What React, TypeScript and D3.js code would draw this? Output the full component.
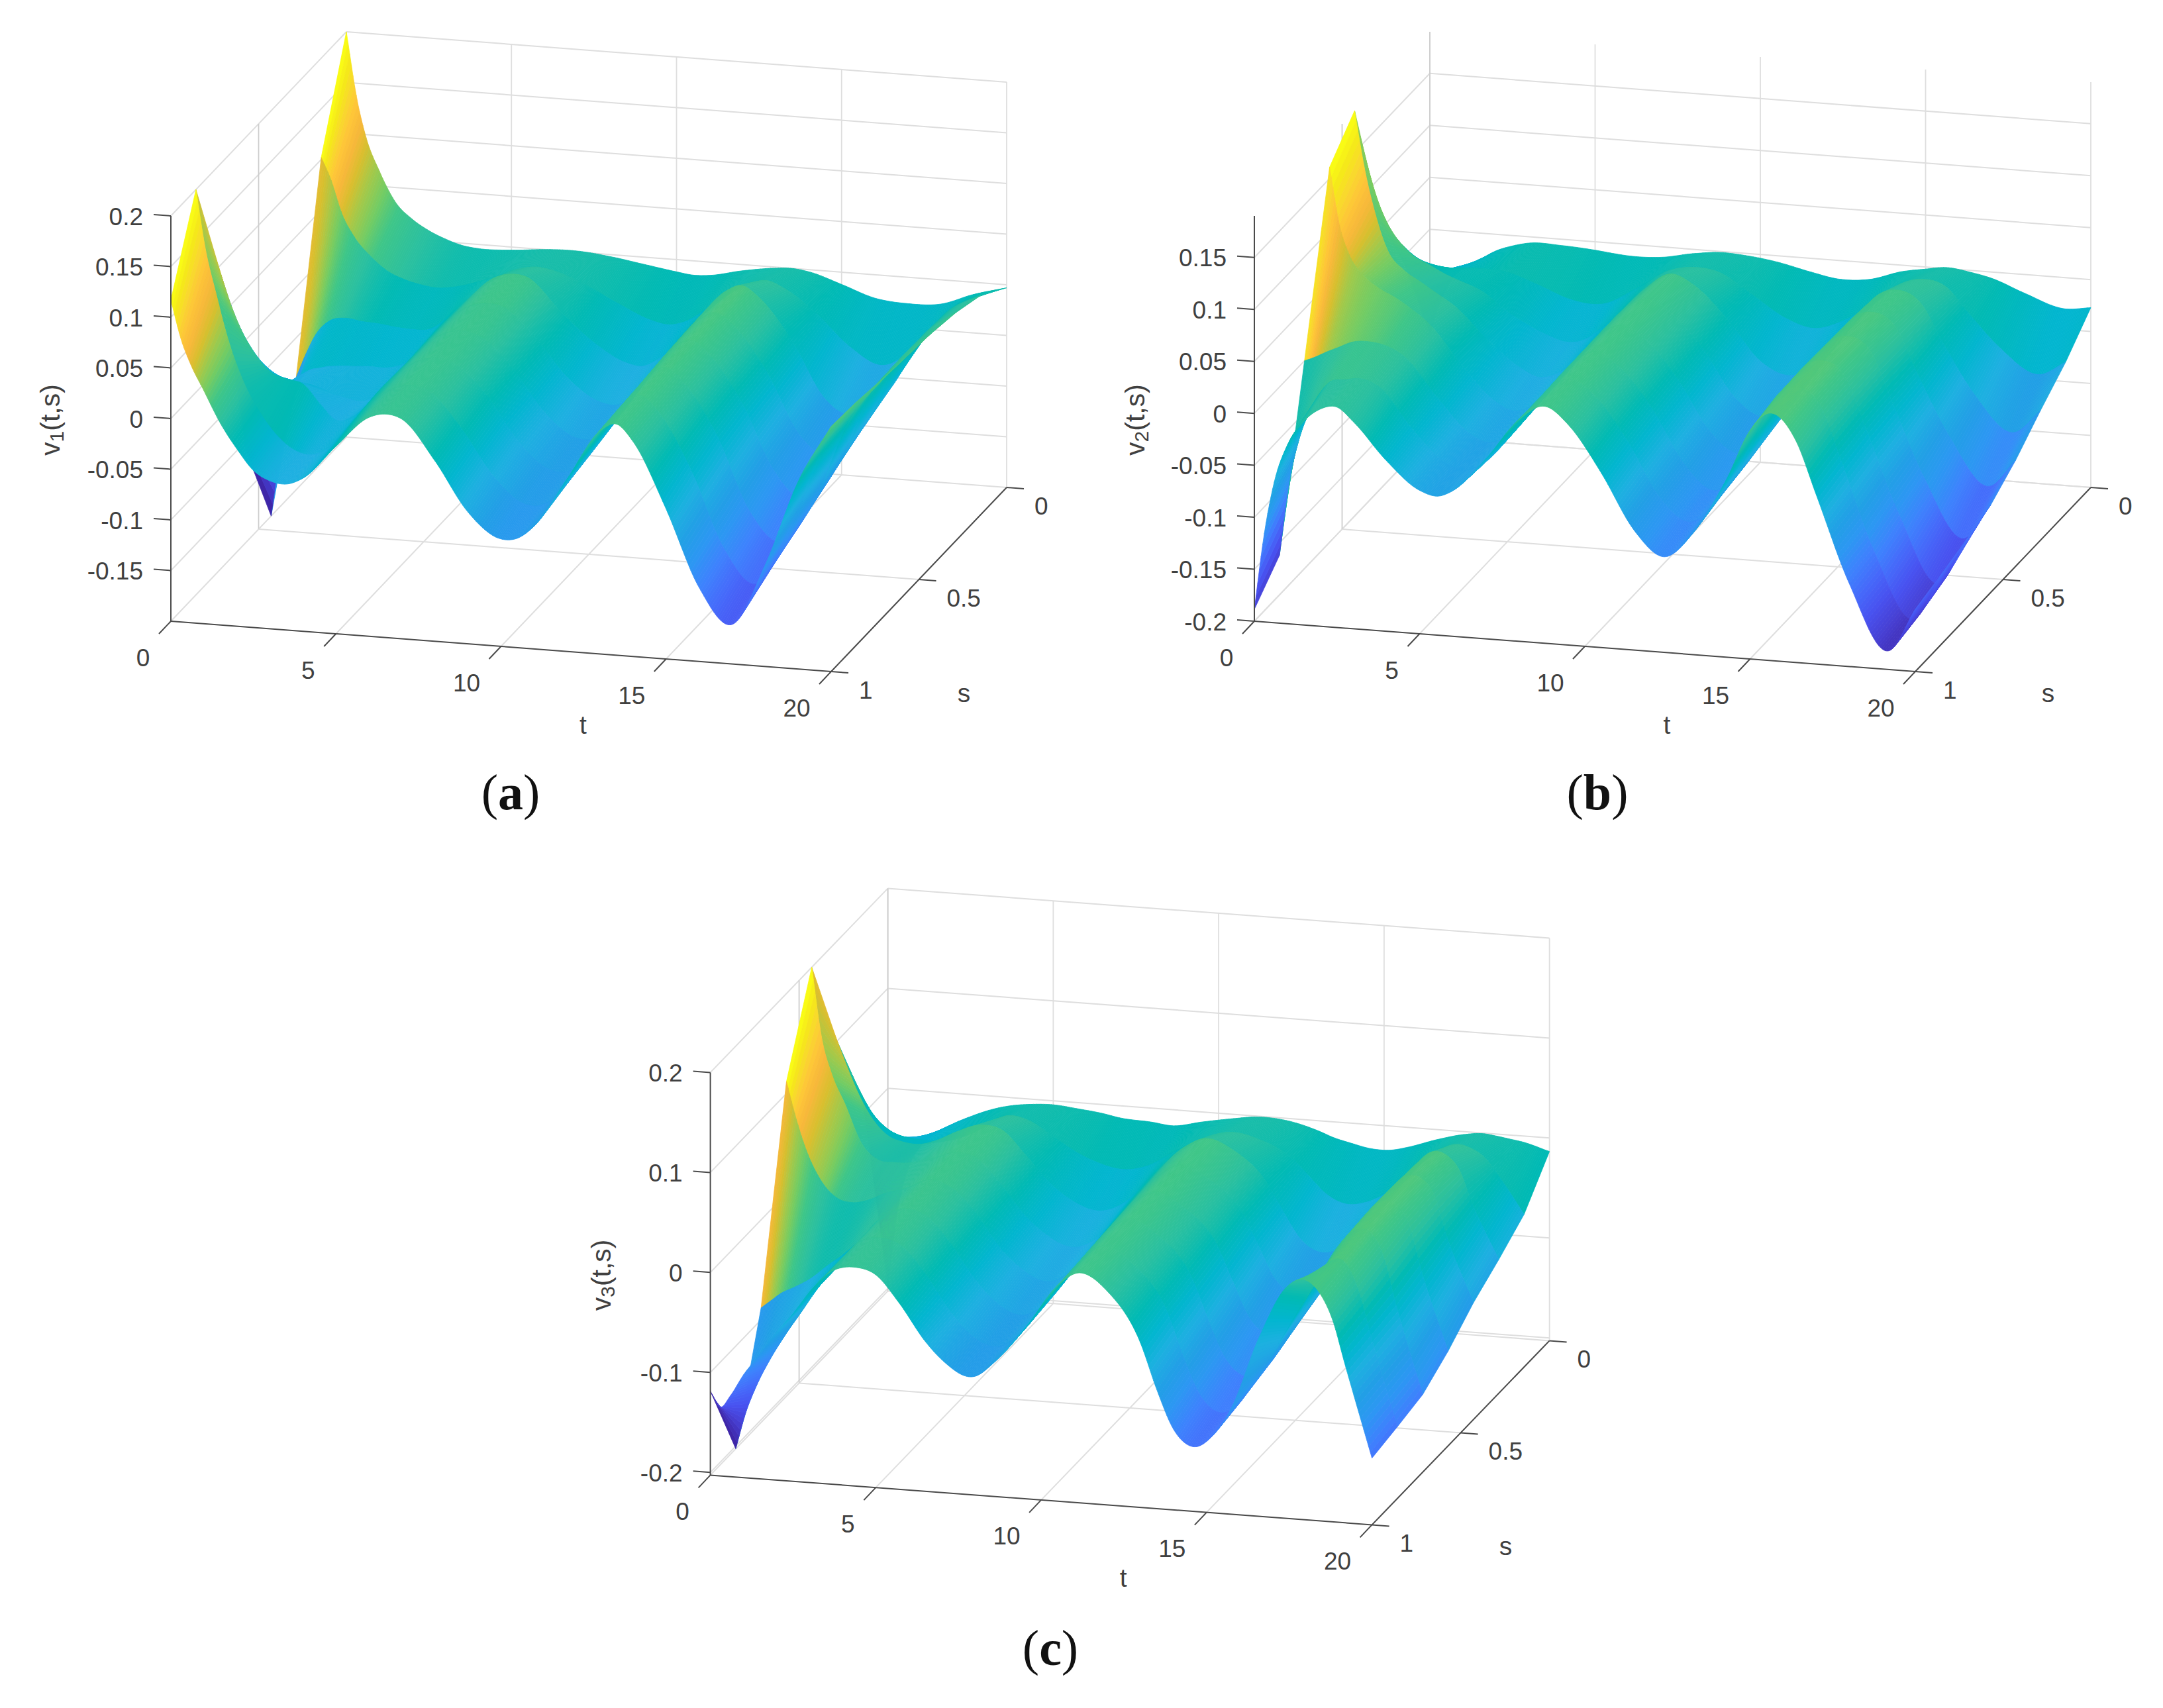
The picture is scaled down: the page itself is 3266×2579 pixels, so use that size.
import React, { useEffect, useRef } from "react";
import * as d3 from "d3";

// ---- value tables: rows run k=0 (s=1) .. k=7 (s=0) ----
const tA = [0,.3,.6,1, 1.5,2,2.5,3, 3.5,4,5,6, 6.5,7,8,9, 10,10.5,11,12, 13,13.5,14,15, 16,17,18,19, 20];
const a0 = [.117,.08,.055,.03, -.001,-.025,-.045,-.054, -.056,-.049,-.015,.016, .0205,.0167,-.022,-.07, -.094,-.092,-.079,-.03, .02,.028,.012,-.052, -.127,-.161,-.1,-.015, .042];
const a1 = [.2,.14,.1,.052, .01,-.018,-.038,-.05, -.053,-.045,-.008,.019, .023,.02,-.014,-.06, -.086,-.085,-.072,-.024, .022,.03,.016,-.04, -.115,-.147,-.09,-.01, .04];
const a2 = [.09,.061,.038,.016, -.002,-.008,-.012,-.03, -.045,-.04,-.005,.02, .024,.021,-.007,-.052, -.078,-.078,-.066,-.02, .024,.032,.019,-.03, -.103,-.132,-.085,-.008, .036];
const a3 = [-.11,-.085,-.065,-.045, -.04,-.04,-.045,-.05, -.052,-.045,-.006,.021, .025,.022,-.005,-.048, -.072,-.072,-.06,-.014, .026,.033,.021,-.024, -.09,-.117,-.075,-.002, .033];
const a4 = [-.2,-.13,-.085,-.058, -.05,-.047,-.046,-.045, -.045,-.04,-.005,.022, .026,.024,-.004,-.042, -.063,-.064,-.052,-.01, .027,.034,.023,-.02, -.08,-.1,-.065,0, .03];
const a5 = [-.089,-.065,-.045,-.031, -.027,-.029,-.03,-.032, -.033,-.032,-.005,.024, .029,.027,-.004,-.032, -.05,-.052,-.043,-.008, .028,.035,.025,-.015, -.07,-.085,-.055,0, .025];
const a6 = [.102,.08,.05,.026, .008,-.005,-.012,-.016, -.018,-.016,-.006,.007, .01,.008,-.004,-.02, -.034,-.037,-.033,-.01, .01,.014,.008,-.015, -.045,-.061,-.04,-.002, .016];
const a7 = [.2,.138,.097,.065, .035,.02,.01,.003, -.002,-.004,-.003,0, .001,.001,-.002,-.007, -.012,-.014,-.013,-.006, -.001,0,-.002,-.012, -.023,-.026,-.024,-.012, -.003];

const tB = [0,.3,.6,1, 1.5,2,2.5,3, 4,5,5.6,6, 7,8,8.8,9.5, 10.5,11.5,12.4,13.3, 14.3,15,15.6,16.4, 17,18,19.2,20];
const b0 = [-.1885,-.115,-.065,-.028, -.004,.009,.012,-.001, -.036,-.062,-.066,-.06, -.027,.013,.028,.012, -.032,-.085,-.108,-.082, -.028,.02,.038,.0125, -.037,-.12,-.182,-.14];
const b1 = [-.162,-.09,-.048,-.016, .008,.012,.014,.008, -.03,-.06,-.066,-.062, -.03,.013,.029,.016, -.025,-.078,-.1,-.075, -.02,.026,.038,.02, -.03,-.115,-.177,-.133];
const b2 = [0,.004,.009,.015, .022,.023,.02,.012, -.025,-.058,-.065,-.06, -.028,.014,.03,.018, -.02,-.072,-.095,-.07, -.015,.027,.038,.022, -.025,-.105,-.168,-.125];
const b3 = [.161,.106,.078,.06, .048,.04,.03,.018, -.02,-.052,-.06,-.056, -.026,.014,.03,.02, -.016,-.065,-.085,-.063, -.012,.026,.036,.022, -.022,-.095,-.15,-.116];
const b4 = [.19,.135,.095,.058, .04,.03,.02,.01, -.02,-.045,-.053,-.05, -.024,.014,.03,.02, -.012,-.058,-.075,-.056, -.01,.025,.034,.02, -.02,-.08,-.125,-.098];
const b5 = [.06,.05,.04,.028, .02,.012,.006,0, -.022,-.038,-.044,-.043, -.02,.012,.029,.02, -.01,-.048,-.06,-.045, -.008,.022,.03,.018, -.015,-.065,-.0985,-.075];
const b6 = [-.009,-.011,-.013,-.012, -.009,-.007,-.007,-.008, -.018,-.03,-.033,-.032, -.015,.005,.01,.007, -.012,-.032,-.04,-.03, -.008,.009,.015,.009, -.012,-.045,-.068,-.054];
const b7 = [-.1,-.07,-.05,-.035, -.026,-.016,-.01,-.006, -.006,-.008,-.01,-.011, -.01,-.004,-.001,-.002, -.006,-.013,-.018,-.016, -.006,-.002,.001,-.002, -.006,-.018,-.03,-.027];

const tC = [0,.3,.6,1, 1.5,2,2.5,3, 3.6,4.4,5,5.7, 6.5,7,8,8.6, 9.5,10.5,11.1,12, 13,13.5,14,14.6, 15.2,15.7,16.6,17.4, 18,18.4,18.8,19.2, 20];
const c0 = [-.1186,-.134,-.122,-.1, -.078,-.055,-.035,-.012, .0087,.016,.01,-.016, -.053,-.07,-.084,-.068, -.033,.013,.027,.011, -.038,-.084,-.122,-.138, -.125,-.1,-.0227,.028, .037,.026,0,-.046, -.136];
const c1 = [-.2025,-.166,-.14,-.113, -.085,-.06,-.035,-.016, .01,.019,.013,-.012, -.05,-.068,-.08,-.066, -.028,.014,.028,.012, -.03,-.074,-.112,-.13, -.12,-.095,-.045,0, .03,.03,.005,-.042, -.131];
const c2 = [-.088,-.08,-.072,-.065, -.055,-.041,-.028,-.012, .01,.022,.016,-.008, -.045,-.062,-.075,-.062, -.025,.016,.028,.014, -.024,-.065,-.102,-.12, -.112,-.09,-.035,.015, .035,.034,.012,-.038, -.125];
const c3 = [.112,.075,.045,.018, 0,-.004,0,.008, .014,.025,.018,-.004, -.04,-.055,-.068,-.056, -.02,.017,.029,.016, -.018,-.055,-.09,-.105, -.098,-.08,-.03,.018, .037,.035,.018,-.03, -.108];
const c4 = [.2,.13,.095,.066, .028,.0126,.011,.012, .017,.026,.021,-.002, -.034,-.048,-.06,-.05, -.016,.018,.03,.018, -.012,-.045,-.077,-.09, -.085,-.07,-.027,.018, .036,.035,.02,-.022, -.086];
const c5 = [.1,.075,.052,.028, .01,.004,.003,.008, .018,.027,.023,0, -.028,-.04,-.05,-.042, -.012,.02,.03,.02, -.01,-.038,-.063,-.075, -.07,-.058,-.022,.016, .034,.032,.018,-.015, -.069];
const c6 = [.016,0,-.012,-.018, -.02,-.021,-.02,-.015, -.005,.01,.007,-.006, -.022,-.029,-.035,-.03, -.012,.005,.01,.005, -.012,-.028,-.044,-.053, -.05,-.042,-.016,.007, .015,.012,.004,-.012, -.05];
const c7 = [-.197,-.12,-.08,-.055, -.04,-.03,-.022,-.015, -.009,-.005,-.004,-.006, -.009,-.012,-.014,-.016, -.01,-.004,-.001,-.002, -.01,-.016,-.02,-.024, -.024,-.02,-.01,-.003, -.0006,-.002,-.004,-.006, -.0135];

const tTicks = [0, 5, 10, 15, 20];
const sTicks = [0, 0.5, 1];
const zTicksA = [-0.15, -0.1, -0.05, 0, 0.05, 0.1, 0.15, 0.2];
const zTicksB = [-0.2, -0.15, -0.1, -0.05, 0, 0.05, 0.1, 0.15];
const zTicksC = [-0.2, -0.1, 0, 0.1, 0.2];

// parula, evenly sampled
const parulaStops = [
  "#3e26a8","#4740d4","#4852f0","#4669fa","#3e82fd","#2d97f3","#229fe6","#1eb0e1","#02b6cf","#01bab4","#2ac0a0",
  "#3fc688","#74cc63","#a3c94a","#d8bf2e","#f7b83a","#fec538","#f9d72f","#f5e81a","#f9fb15",
];

const FONT = "'Liberation Sans', Arial, sans-serif";
const INK = "#404040";
const GRID = "#dedede";
const WALL = "#cdcdcd";
const AXIS = "#4a4a4a";

type Panel = {
  ts: number[]; rows: number[][]; zDomain: [number, number]; zTicks: number[];
  origin: [number, number]; tVec: [number, number]; sVec: [number, number]; zHeight: number;
  sub: string; zLabelDx: number; caption: string; capXY: [number, number];
};

const panels: Panel[] = [
  { ts: tA, rows: [a0,a1,a2,a3,a4,a5,a6,a7], zDomain: [-0.2, 0.2], zTicks: zTicksA,
    origin: [258, 938], tVec: [997, 76], sVec: [265, -278], zHeight: 612,
    sub: "1", zLabelDx: -182, caption: "a", capXY: [771, 1222] },
  { ts: tB, rows: [b0,b1,b2,b3,b4,b5,b6,b7], zDomain: [-0.2, 0.19], zTicks: zTicksB,
    origin: [1894, 938], tVec: [998, 76], sVec: [265, -278], zHeight: 612,
    sub: "2", zLabelDx: -180, caption: "b", capXY: [2412, 1222] },
  { ts: tC, rows: [c0,c1,c2,c3,c4,c5,c6,c7], zDomain: [-0.2027, 0.2], zTicks: zTicksC,
    origin: [1072.6, 2227.4], tVec: [999, 75], sVec: [268, -278], zHeight: 608,
    sub: "3", zLabelDx: -165, caption: "c", capXY: [1586, 2514] },
];

// smooth cubic through the values read for one row
function rowCurve(ts: number[], zs: number[]) {
  const n = ts.length;
  const h = d3.range(n - 1).map((i) => ts[i + 1] - ts[i]);
  const d = d3.range(n - 1).map((i) => (zs[i + 1] - zs[i]) / h[i]);
  const m = new Array(n).fill(0);
  m[0] = d[0];
  m[n - 1] = d[n - 2];
  for (let i = 1; i < n - 1; i++) m[i] = (h[i - 1] * d[i] + h[i] * d[i - 1]) / (h[i - 1] + h[i]);
  return (t: number) => {
    const i = Math.min(n - 2, Math.max(0, d3.bisectRight(ts, t) - 1));
    const u = (t - ts[i]) / h[i];
    const u2 = u * u, u3 = u2 * u;
    return (2*u3 - 3*u2 + 1) * zs[i] + (u3 - 2*u2 + u) * h[i] * m[i] + (-2*u3 + 3*u2) * zs[i+1] + (u3 - u2) * h[i] * m[i+1];
  };
}

function drawPanel(root: d3.Selection<SVGGElement, unknown, null, undefined>, p: Panel) {
  const [ox, oy] = p.origin;
  const fT = d3.scaleLinear().domain([0, 20]).range([0, 1]);
  const fS = d3.scaleLinear().domain([1, 0]).range([0, 1]);
  const fZ = d3.scaleLinear().domain(p.zDomain).range([0, p.zHeight]);
  const P = (t: number, s: number, z: number): [number, number] => [
    ox + fT(t) * p.tVec[0] + fS(s) * p.sVec[0],
    oy + fT(t) * p.tVec[1] + fS(s) * p.sVec[1] - fZ(z),
  ];
  const g = root.append("g");
  const [zMin, zMax] = p.zDomain;
  const line = (a: [number, number], b: [number, number], stroke: string, w = 2) =>
    g.append("line").attr("x1", a[0]).attr("y1", a[1]).attr("x2", b[0]).attr("y2", b[1])
      .attr("stroke", stroke).attr("stroke-width", w);

  // grid on the two walls and the floor
  p.zTicks.forEach((z) => {
    line(P(0, 1, z), P(0, 0, z), GRID);
    line(P(0, 0, z), P(20, 0, z), GRID);
  });
  tTicks.forEach((t) => {
    line(P(t, 0, zMin), P(t, 0, zMax), GRID, 1.8);
    line(P(t, 1, zMin), P(t, 0, zMin), GRID);
  });
  sTicks.forEach((s) => {
    if (s < 1) line(P(0, s, zMin), P(0, s, zMax), WALL, 1.8);
    if (s < 1) line(P(0, s, zMin), P(20, s, zMin), GRID);
  });

  // surface: flat colour across s (taken from the far row of each strip), fine steps along t
  const all = p.rows.flat();
  const lo = d3.min(all) as number, hi = d3.max(all) as number;
  const colour = d3.scaleLinear<string>()
    .domain(parulaStops.map((_, i) => lo + (hi - lo) * i / (parulaStops.length - 1)))
    .range(parulaStops).clamp(true);
  const curves = p.rows.map((r) => rowCurve(p.ts, r));
  const fine = d3.range(0, 20.0001, 0.05);
  const sOf = d3.scaleLinear().domain([0, 7]).range([1, 0]);
  const surf = g.append("g");
  for (let k = 6; k >= 0; k--) {
    const near = curves[k], far = curves[k + 1];
    for (let i = 0; i < fine.length - 1; i++) {
      const t0 = fine[i], t1 = fine[i + 1];
      const col = colour(far(t0));
      const pts = [P(t0, sOf(k), near(t0)), P(t1, sOf(k), near(t1)), P(t1, sOf(k + 1), far(t1)), P(t0, sOf(k + 1), far(t0))];
      surf.append("polygon").attr("points", pts.map((q) => q[0].toFixed(1) + "," + q[1].toFixed(1)).join(" "))
        .attr("fill", col).attr("stroke", col).attr("stroke-width", 0.8);
    }
  }

  // axes
  line(P(0, 1, zMin), P(20, 1, zMin), AXIS);
  line(P(20, 1, zMin), P(20, 0, zMin), AXIS);
  line(P(0, 1, zMin), P(0, 1, zMax), AXIS);

  const text = (x: number, y: number, s: string, anchor: string, size = 37) =>
    g.append("text").attr("x", x).attr("y", y).attr("text-anchor", anchor).attr("dominant-baseline", "central")
      .attr("font-family", FONT).attr("font-size", size).attr("fill", INK).text(s);

  p.zTicks.forEach((z) => {
    const a = P(0, 1, z);
    line(a, [a[0] - 26, a[1] - 2], AXIS);
    text(a[0] - 42, a[1] + 1, String(z), "end");
  });
  tTicks.forEach((t) => {
    const a = P(t, 1, zMin);
    line(a, [a[0] - 18, a[1] + 19], AXIS);
    text(a[0] - 42 - (t >= 10 ? 10 : 0), a[1] + 55, String(t), "middle");
  });
  sTicks.forEach((s) => {
    const a = P(20, s, zMin);
    line(a, [a[0] + 26, a[1] + 2], AXIS);
    text(a[0] + 42, a[1] + 28, String(s), "start");
  });
  const tm = P(10, 1, zMin);
  text(tm[0] + 124, tm[1] + 118, "t", "middle", 39);
  const sm = P(20, 0.5, zMin);
  text(sm[0] + 68, sm[1] + 171, "s", "middle", 39);

  const zm = P(0, 1, (zMin + zMax) / 2);
  const lab = g.append("text")
    .attr("transform", `translate(${ox + p.zLabelDx},${zm[1] + 2}) rotate(-90)`)
    .attr("text-anchor", "middle").attr("dominant-baseline", "central")
    .attr("font-family", FONT).attr("font-size", 41).attr("fill", INK);
  lab.append("tspan").text("v");
  lab.append("tspan").attr("font-size", 30).attr("dy", 9).text(p.sub);
  lab.append("tspan").attr("dy", -9).text("(t,s)");

  const cap = g.append("text").attr("x", p.capXY[0]).attr("y", p.capXY[1]).attr("text-anchor", "middle")
    .attr("font-family", "'Liberation Serif', serif").attr("font-size", 76).attr("fill", "#111");
  cap.append("tspan").text("(");
  cap.append("tspan").attr("font-weight", "bold").text(p.caption);
  cap.append("tspan").text(")");
}

export default function App() {
  const ref = useRef<SVGSVGElement>(null);
  useEffect(() => {
    const svg = d3.select(ref.current as SVGSVGElement);
    svg.selectAll("*").remove();
    const root = svg.append("g") as any;
    panels.forEach((p) => drawPanel(root, p));
  }, []);
  return (
    <svg ref={ref} width={3266} height={2579} viewBox="0 0 3266 2579"
      style={{ position: "absolute", left: 0, top: 0, display: "block", background: "#fff" }} />
  );
}
